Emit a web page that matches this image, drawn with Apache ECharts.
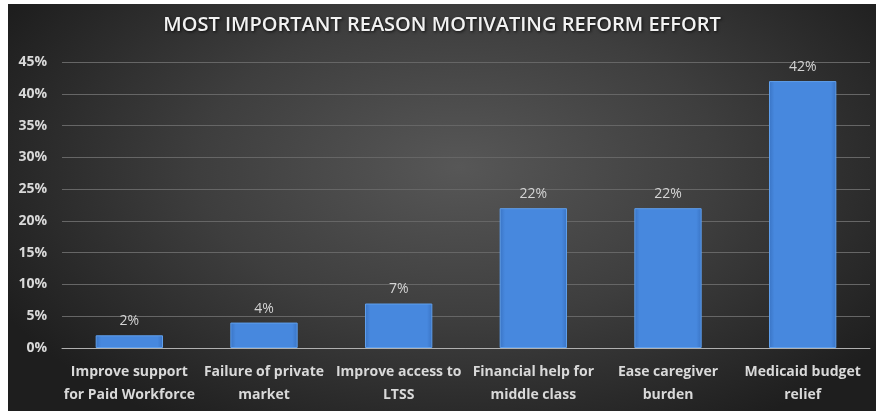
<!DOCTYPE html>
<html><head><meta charset="utf-8">
<script src="https://cdn.jsdelivr.net/npm/echarts@6/dist/echarts.min.js"></script>
<style>
html,body{margin:0;padding:0;background:#fff;}
#wrap{position:absolute;left:8px;top:4px;width:868px;height:407px;
 background:radial-gradient(ellipse 60% 75% at 52% 40%, #575757 0%, #3e3e3e 50%, #1e1e1e 100%);}
#c{position:absolute;left:0;top:0;width:868px;height:407px;}
</style></head>
<body><div id="wrap"><div id="c"></div></div>
<script>
const titleText = 'MOST IMPORTANT REASON MOTIVATING REFORM EFFORT';
const categories = ['Improve support\nfor Paid Workforce','Failure of private\nmarket','Improve access to\nLTSS','Financial help for\nmiddle class','Ease caregiver\nburden','Medicaid budget\nrelief'];
const values = [2, 4, 7, 22, 22, 42];
const yTicks = [0,5,10,15,20,25,30,35,40,45];

const chart = echarts.init(document.getElementById('c'));
chart.setOption({
  backgroundColor: 'transparent',
  title: {text: titleText, left: 'center', top: 6,
    textStyle: {color: '#f2f2f2', fontFamily: 'Open Sans', fontWeight: 600, fontSize: 20,
      textShadowColor: 'rgba(0,0,0,0.8)', textShadowBlur: 3, textShadowOffsetX: 1, textShadowOffsetY: 1}},
  grid: {left: 54, right: 6, top: 58, bottom: 63},
  xAxis: {type: 'category', data: categories,
    axisLine: {lineStyle: {color: '#b0b0b0', width: 1}}, axisTick: {show: false},
    axisLabel: {color: '#d9d9d9', fontFamily: 'Open Sans', fontWeight: 'bold', fontSize: 14, lineHeight: 23, margin: 13, interval: 0}},
  yAxis: {type: 'value', min: 0, max: 45, interval: 5,
    axisLine: {show: false}, axisTick: {show: false},
    splitLine: {lineStyle: {color: '#666666', width: 1}},
    axisLabel: {color: '#d9d9d9', fontFamily: 'Open Sans', fontWeight: 'bold', fontSize: 14, margin: 15,
      formatter: v => v + '%'}},
  series: [{type: 'bar', data: values, barWidth: '50%',
    itemStyle: {color: new echarts.graphic.LinearGradient(0,0,1,0,[
      {offset:0,color:'#3a74c4'},{offset:0.08,color:'#4788de'},{offset:0.92,color:'#4788de'},{offset:1,color:'#3a74c4'}]),
      borderColor: '#5f9fec', borderWidth: 1},
    label: {show: true, position: 'top', distance: 7, color: '#d4d4d4', fontFamily: 'Open Sans', fontSize: 14,
      formatter: p => p.value + '%'}}]
});
</script></body></html>
